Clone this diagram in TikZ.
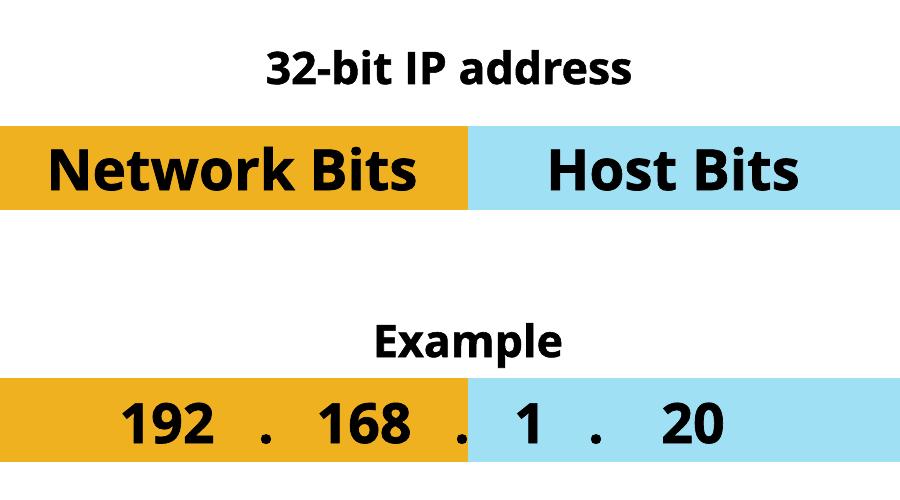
\documentclass[tikz,border=0pt]{standalone}
\usepackage{fontspec}
\setmainfont[BoldFeatures={FakeBold=1.2}]{Open Sans}
\definecolor{netorange}{HTML}{F0B121}
\definecolor{hostblue}{HTML}{A0E0F4}
\begin{document}
\begin{tikzpicture}[x=1pt,y=-1pt,
  lbl/.style={inner sep=0pt,anchor=base,font=\bfseries\fontsize{#1}{#1}\selectfont,text=black}]
\useasboundingbox (0,0) rectangle (900,500);
\fill[white] (0,0) rectangle (900,500);
% top band
\fill[netorange] (0,126) rectangle (468,210);
\fill[hostblue] (468,126) rectangle (900,210);
% bottom band
\fill[netorange] (0,378) rectangle (468,462);
\fill[hostblue] (468,378) rectangle (900,462);
\node[lbl=44.7] (title) at (449,84) {32-bit IP address};
\node[lbl=56.6] (net) at (232,190) {Network Bits};
\node[lbl=56.6] (host) at (673,190) {Host Bits};
\node[lbl=44.7] (ex) at (468,357) {Example};
\node[lbl=55.5] (a) at (167,443) {192};
\node[lbl=55.5] (d1) at (266,443) {.};
\node[lbl=55.5] (b) at (364,443) {168};
\node[lbl=55.5] (d2) at (462,443) {.};
\node[lbl=55.5] (c) at (530,443) {1};
\node[lbl=55.5] (d3) at (596,443) {.};
\node[lbl=55.5] (e) at (693,443) {20};
\end{tikzpicture}
\end{document}
